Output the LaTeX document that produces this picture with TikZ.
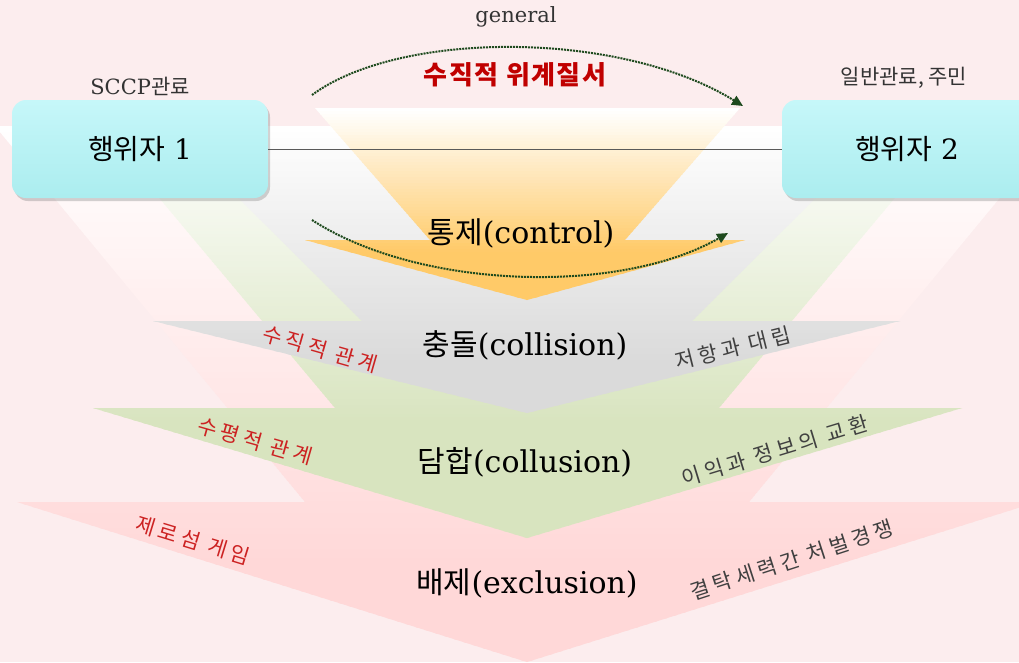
\documentclass[tikz,border=0pt]{standalone}
\usepackage{fontspec}
\setmainfont{DejaVu Serif}
\newfontfamily\kr{Noto Sans CJK KR}
\newfontfamily\krsp[LetterSpace=20]{Noto Sans CJK KR}
\newfontfamily\krhier[LetterSpace=6]{Noto Sans CJK KR}
\usetikzlibrary{positioning,shadows,arrows.meta}
\definecolor{bgpink}{HTML}{FCEDEE}
\definecolor{ctrlorange}{HTML}{FFCA68}
\definecolor{colligray}{HTML}{DADADA}
\definecolor{collugreen}{HTML}{D8E4BF}
\definecolor{exclpink}{HTML}{FFD8D8}
\definecolor{actorcyan}{HTML}{ABEDEF}
\definecolor{actortop}{HTML}{C6F7F9}
\definecolor{arcgreen}{HTML}{1E4A1E}
\definecolor{relred}{HTML}{CC2222}
\definecolor{hierred}{HTML}{C00000}
% colour, top, end of the ramp, bottom
\newcommand{\stripfill}[4]{%
	\pgfmathtruncatemacro{\nstrips}{(#4-#2)/3}
	\foreach \i in {0,...,\nstrips}{
		\pgfmathsetmacro{\ys}{#2+3*\i}
		\pgfmathtruncatemacro{\pct}{min(100,(\ys-#2)/(#3-#2)*100)}
		\fill[#1!\pct!white] (-10,\ys) rectangle (1070,\ys+3.6);
	}}
\begin{document}
\begin{tikzpicture}[x=1pt,y=-1pt,
	actor/.style={rounded corners=14pt,minimum width=256pt,minimum height=98pt,top color=actortop,bottom color=actorcyan,
		drop shadow={opacity=.35,shadow xshift=2pt,shadow yshift=-3pt},font=\fontsize{28}{32}\selectfont},
	small/.style={font=\fontsize{21}{24}\selectfont,text=black!80},
	stage/.style={font=\fontsize{30}{34}\selectfont},
	leftrel/.style={font=\krsp\fontsize{21}{23}\selectfont,text=relred,inner sep=1pt},
	rightrel/.style={font=\krsp\fontsize{21}{23}\selectfont,text=black!75,inner sep=1pt},
	flow/.style={arcgreen,densely dotted,line width=2pt,-{Triangle[length=11pt,width=10pt]}}]
	\useasboundingbox (0,0) rectangle (1019,662);
	\clip (0,0) rectangle (1019,662);
	\fill[bgpink] (0,0) rectangle (1019,662);
	% chevrons, back to front
	\begin{scope}
		\clip (-5,126)--(1059,126)--(749,502)--(1037,502)--(527,662)--(17,502)--(305,502)--cycle;
		\stripfill{exclpink}{126}{560}{662}
	\end{scope}
	\begin{scope}
		\clip (99,126)--(955,126)--(719,408)--(962,408)--(527,538)--(93,408)--(335,408)--cycle;
		\stripfill{collugreen}{126}{420}{538}
	\end{scope}
	\begin{scope}
		\clip (166,126)--(888,126)--(692,321)--(900,321)--(527,413)--(153,321)--(362,321)--cycle;
		\stripfill{colligray}{126}{360}{413}
	\end{scope}
	\begin{scope}
		\clip (315,108)--(740,108)--(625,240)--(745,240)--(527,300)--(305,240)--(430,240)--cycle;
		\stripfill{ctrlorange}{108}{250}{300}
	\end{scope}
	% actors
	\node[actor] (actor1) at (140,149) {{\kr 행위자} 1};
	\node[actor,minimum width=250pt] (actor2) at (907,149) {{\kr 행위자} 2};
	\draw[black!65] (actor1) -- (actor2);
	\node[small,above=1pt of actor1] (actor1lbl) {SCCP{\kr 관료}};
	\node[small,above=8pt of actor2,xshift=-3pt] (actor2lbl) {\kr 일반관료, 주민};
	% hierarchy arrows
	\coordinate (hierfrom) at (312,95);
	\coordinate (hierto) at (743,106);
	\coordinate (ctrlfrom) at (312,220);
	\coordinate (ctrlto) at (728,233);
	\draw[flow] (hierfrom) .. controls (400,30) and (620,30) .. (hierto);
	\draw[flow] (ctrlfrom) .. controls (420,290) and (620,295) .. (ctrlto);
	\node[small] (general) at (516,17) {general};
	\node[font=\krhier\bfseries\fontsize{26}{30}\selectfont,text=hierred] (hier) at (515,75) {수직적 위계질서};
	% stages
	\node[stage] (control) at (521,233) {{\kr 통제}(control)};
	\node[stage] (collision) at (525,345) {{\kr 충돌}(collision)};
	\node[stage] (collusion) at (525,462) {{\kr 담합}(collusion)};
	\node[stage] (exclusion) at (527,583) {{\kr 배제}(exclusion)};
	% relations
	\node[leftrel,rotate=-16] (vrel) at (320,349) {수직적 관계};
	\node[leftrel,rotate=-16] (hrel) at (255,441) {수평적 관계};
	\node[leftrel,rotate=-17] (zerosum) at (193,540) {제로섬 게임};
	\node[rightrel,rotate=14] (resist) at (733,348) {저항과 대립};
	\node[rightrel,rotate=17] (exchange) at (775,451) {이익과 정보의 교환};
	\node[rightrel,rotate=18] (punish) at (792,560) {결탁세력간 처벌경쟁};
\end{tikzpicture}
\end{document}
